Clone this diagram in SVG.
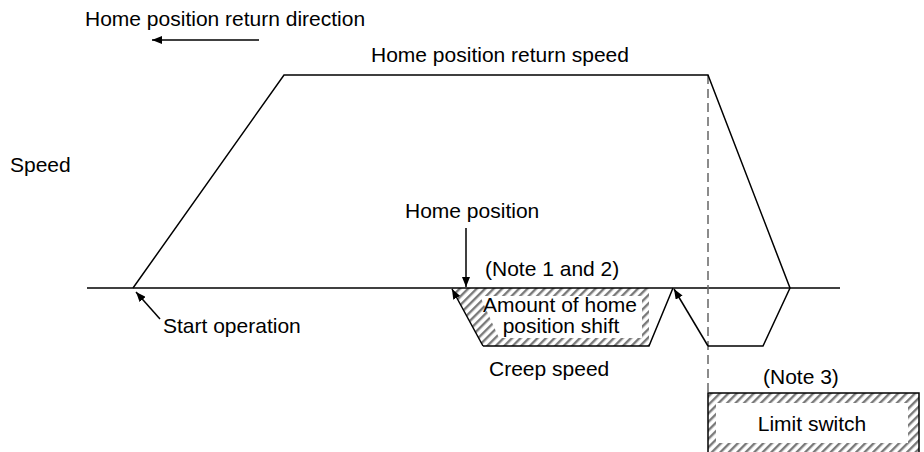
<svg xmlns="http://www.w3.org/2000/svg" width="924" height="452" viewBox="0 0 924 452">
<defs>
<style>
text{font-family:"Liberation Sans",Arial,sans-serif;font-size:21px;fill:#000}
.ln{fill:none;stroke:#000;stroke-width:1.5}
.ar{fill:none;stroke:#000;stroke-width:1.5;marker-end:url(#ah)}
.hatch{fill:url(#hp);stroke:none}
.mid{text-anchor:middle}
</style>
<pattern id="hp" patternUnits="userSpaceOnUse" width="6" height="6" patternTransform="rotate(45)">
<rect width="6" height="6" fill="#fff"/>
<rect x="0" y="0" width="2.4" height="6" fill="#7a7a7a"/>
</pattern>
<marker id="ah" viewBox="0 0 10 8" refX="10" refY="4" markerWidth="10" markerHeight="8" markerUnits="userSpaceOnUse" orient="auto">
<path d="M0,0 L10,4 L0,8 Z" fill="#000"/>
</marker>
</defs>
<rect width="924" height="452" fill="#fff"/>

<g id="shift-zone">
<polygon class="hatch" points="452,288 649,288 649,346 483,346"/>
<polygon points="480,296 642,296 642,338 499,338" fill="#fff"/>
<text class="mid" x="560" y="312">Amount of home</text>
<text class="mid" x="561" y="333">position shift</text>
</g>

<g id="limit-switch">
<rect class="hatch" x="708" y="393" width="211" height="62"/>
<rect x="716" y="403" width="192" height="40" fill="#fff"/>
<rect class="ln" x="708" y="393" width="211" height="62"/>
<text class="mid" x="812" y="431">Limit switch</text>
</g>

<g id="axis">
<line class="ln" x1="87" y1="288" x2="840" y2="288"/>
<line x1="708" y1="75" x2="708" y2="393" stroke="#666" stroke-width="1.5" stroke-dasharray="9,5"/>
</g>

<g id="connectors">
<polyline class="ln" points="133,288 284,75 708,75 790,288 763,346 708,346"/>
<polyline class="ln" points="483,346 649,346 673,288"/>
<line class="ar" x1="483" y1="346" x2="452" y2="289"/>
<line class="ar" x1="708" y1="346" x2="674" y2="289"/>
<line class="ar" x1="259" y1="40" x2="152" y2="40"/>
<line class="ar" x1="466" y1="228" x2="466" y2="287"/>
<line class="ar" x1="160" y1="319" x2="136" y2="292"/>
</g>

<g id="labels">
<text x="85" y="26">Home position return direction</text>
<text x="371" y="62">Home position return speed</text>
<text x="10" y="172">Speed</text>
<text x="405" y="218">Home position</text>
<text x="485" y="276">(Note 1 and 2)</text>
<text x="163" y="333">Start operation</text>
<text x="489" y="376">Creep speed</text>
<text x="763" y="384">(Note 3)</text>
</g>
</svg>
